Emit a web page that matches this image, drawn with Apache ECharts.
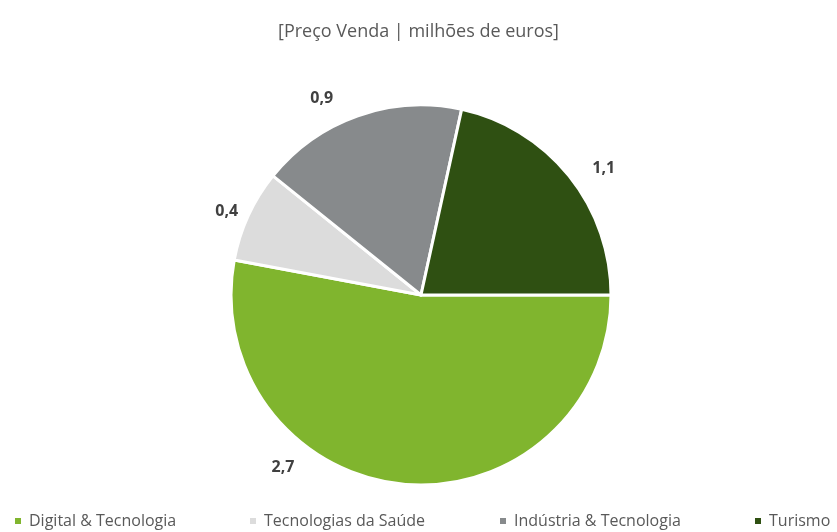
<!DOCTYPE html>
<html>
<head>
<meta charset="utf-8">
<script src="https://cdn.jsdelivr.net/npm/echarts@6/dist/echarts.min.js"></script>
<style>
  html, body { margin: 0; padding: 0; background: #fff; }
  #chart { width: 837px; height: 532px; }
</style>
</head>
<body>
<div id="chart"></div>
<script>
// dados do gráfico
const categorias = ["Digital & Tecnologia", "Tecnologias da Saúde", "Indústria & Tecnologia", "Turismo"];
const valores = [2.7, 0.4, 0.9, 1.1];
const cores = ["#80b52e", "#dcdcdc", "#878a8c", "#2f5012"];
const legendaLeft = [8, 243, 493, 748];
// deslocamento das etiquetas
const etiquetaOffset = [[-129, 75], [2, -1], [-17, -10], [12, -2]];

const chart = echarts.init(document.getElementById("chart"));

const dados = categorias.map((nome, i) => ({
  name: nome,
  value: valores[i],
  itemStyle: { color: cores[i] },
  label: i === 0
    ? { position: "inside", offset: etiquetaOffset[i] }
    : { offset: etiquetaOffset[i] },
}));

const option = {
  animation: false,
  title: {
    text: "[Preço Venda | milhões de euros]",
    left: "center",
    top: 18,
    textStyle: {
      color: "#595959",
      fontFamily: "Open Sans",
      fontSize: 18,
      fontWeight: "normal",
    },
  },
  legend: categorias.map((nome, i) => ({
    data: [nome],
    left: legendaLeft[i],
    top: 508,
    itemWidth: 8,
    itemHeight: 8,
    icon: "rect",
    textStyle: {
      color: "#595959",
      fontFamily: "Open Sans",
      fontSize: 16,
      padding: [0, 0, 0, 2],
    },
  })),
  series: [
    {
      type: "pie",
      center: [421, 295],
      radius: 190,
      startAngle: 0,
      clockwise: true,
      data: dados,
      itemStyle: { borderColor: "#fff", borderWidth: 3 },
      label: {
        show: true,
        formatter: (p) => String(p.value).replace(".", ","),
        color: "#404040",
        fontFamily: "Open Sans",
        fontSize: 16,
        fontWeight: "bold",
      },
      labelLine: { show: false, length: 8, length2: 0 },
      emphasis: { disabled: true },
    },
  ],
};

chart.setOption(option);
</script>
</body>
</html>
